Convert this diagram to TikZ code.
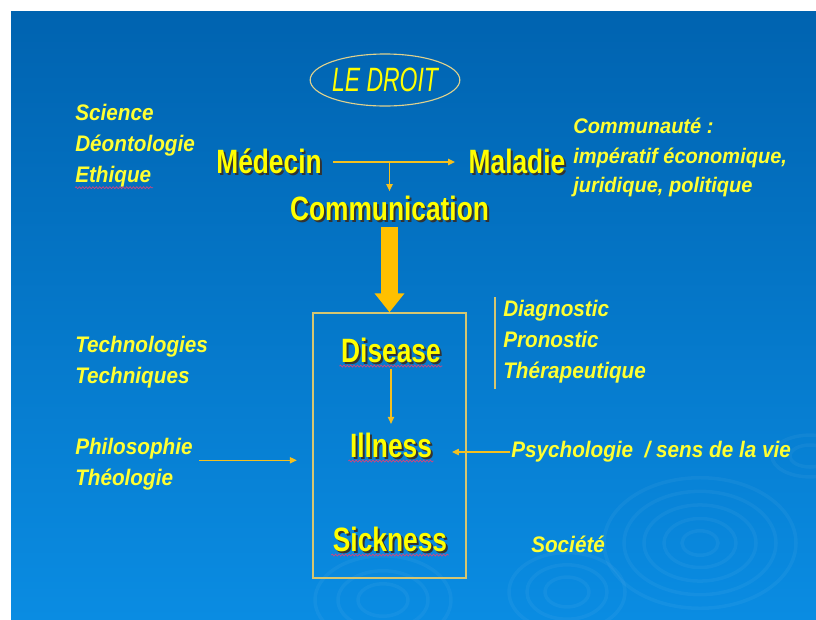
\documentclass[tikz,border=0pt]{standalone}
\usepackage{fontspec}
\setmainfont{Liberation Sans}
\newfontfamily\headfont[FakeStretch=0.78]{Liberation Sans}
\newfontfamily\notefont[FakeStretch=0.92]{Liberation Sans}
\newfontfamily\widenote[FakeStretch=0.95]{Liberation Sans}
\newfontfamily\lawfont[FakeStretch=0.68]{Liberation Sans}
\usetikzlibrary{shapes.geometric, arrows.meta, positioning, decorations.pathmorphing}
\definecolor{slidetop}{RGB}{0,99,176}
\definecolor{slidemid}{RGB}{2,108,190}
\definecolor{slidebot}{RGB}{10,140,226}
\definecolor{lemon}{RGB}{255,255,0}
\definecolor{notey}{RGB}{255,255,50}
\definecolor{gold}{RGB}{244,192,30}
\definecolor{amber}{RGB}{255,192,0}
\definecolor{frame}{RGB}{214,198,112}
\definecolor{spell}{RGB}{205,70,130}
\newcommand{\shd}[1]{\rlap{\kern1.4pt\raisebox{-1.4pt}{\textcolor{black!80}{#1}}}#1}
\tikzset{
  head/.style={font=\headfont\bfseries\fontsize{24}{28}\selectfont, text=lemon, inner sep=1pt},
  note/.style={font=\notefont\bfseries\itshape\fontsize{16}{22}\selectfont, text=notey, align=left, anchor=west, inner sep=0pt},
  notesm/.style={note, font=\widenote\bfseries\itshape\fontsize{15}{21}\selectfont},
  law/.style={ellipse, draw=frame!80!white, line width=0.8pt, text=lemon, font=\lawfont\itshape\fontsize{24}{28}\selectfont, minimum width=3.625cm, minimum height=1.3cm, inner sep=0pt},
  panel/.style={rectangle, draw=frame, line width=1pt, minimum width=3.825cm, minimum height=6.625cm},
  arr/.style={-{Triangle[length=5pt,width=4.5pt]}, line width=0.9pt, gold},
  bigarr/.style={-{Triangle[length=13.5pt,width=20.5pt]}, line width=12pt, amber},
  rule/.style={frame, line width=1pt},
  squig/.style={decorate, decoration={snake, amplitude=0.7pt, segment length=2.4pt}, spell, line width=0.5pt},
  ripple/.style={white, opacity=0.045, line width=2.5pt},
}

\begin{document}
\begin{tikzpicture}[x=0.025cm, y=-0.025cm]
\useasboundingbox (0,0) rectangle (816,619);
% slide background
\shade[top color=slidetop, middle color=slidemid, bottom color=slidebot] (11,11) rectangle (816,619);
\begin{scope}
  \clip (11,11) rectangle (816,619);
  \foreach \r in {18,36,56,76,96}
    \draw[ripple] (700,543) ellipse [x radius=\r, y radius=0.68*\r];
  \foreach \r in {22,40,58}
    \draw[ripple] (567,592) ellipse [x radius=\r, y radius=0.68*\r];
  \foreach \r in {25,45,68}
    \draw[ripple] (383,600) ellipse [x radius=\r, y radius=0.65*\r];
  \foreach \r in {20,38}
    \draw[ripple] (810,456) ellipse [x radius=\r, y radius=0.55*\r];
\end{scope}

% top row
\node[law] (droit) at (385,80) {LE DROIT};
\node[head] (med) at (269,162) {\shd{Médecin}};
\node[head] (mal) at (517,162) {\shd{Maladie}};
\node[head] (com) at (389.5,209) {\shd{Communication}};
\node[note] (sci) at (75,146) {Science\\Déontologie\\Ethique};
\node[notesm] (cty) at (573,157.5) {Communauté :\\impératif économique,\\juridique, politique};

\draw[arr, shorten <=7pt, shorten >=8.5pt] (med.east) -- (mal.west);
\draw[arr, shorten >=2pt] (com.north |- med.east) -- (com.north);
\draw[squig] (sci.south west) -- ++(78,0);

% the three levels
\node[panel] (box) at (389.5,445.5) {};
\draw[bigarr, shorten <=2pt] (com.south) -- (box.north);
\node[head] (dis) at (391,351) {\shd{Disease}};
\node[head] (ill) at (391,446) {\shd{Illness}};
\node[head] (sick) at (390,540) {\shd{Sickness}};
\draw[arr, shorten <=2pt, shorten >=5pt] (dis.south) -- (ill.north);
\draw[squig] (dis.south west) -- (dis.south east);
\draw[squig] (ill.south west) -- (ill.south east);
\draw[squig] (sick.south west) -- (sick.south east);

% side notes
\node[note] (tech) at (75,362.5) {Technologies\\Techniques};
\node[note] (philo) at (75,464.5) {Philosophie\\Théologie};
\node[note] (diag) at (503,342) {Diagnostic\\Pronostic\\Thérapeutique};
\node[note] (psy) at (511,452) {Psychologie~ / sens de la vie};
\node[note] (soc) at (531,544) {Société};

\draw[rule] ([shift={(-8,-3)}]diag.north west) -- ([shift={(-8,5)}]diag.south west);
\draw[arr, shorten <=4.5pt, shorten >=11pt] ([yshift=3pt]philo.east) -- ([yshift=3pt]philo.east -| box.west);
\draw[arr, shorten <=1pt, shorten >=13pt] (psy.west) -- (psy.west -| ill.east);
\end{tikzpicture}
\end{document}
